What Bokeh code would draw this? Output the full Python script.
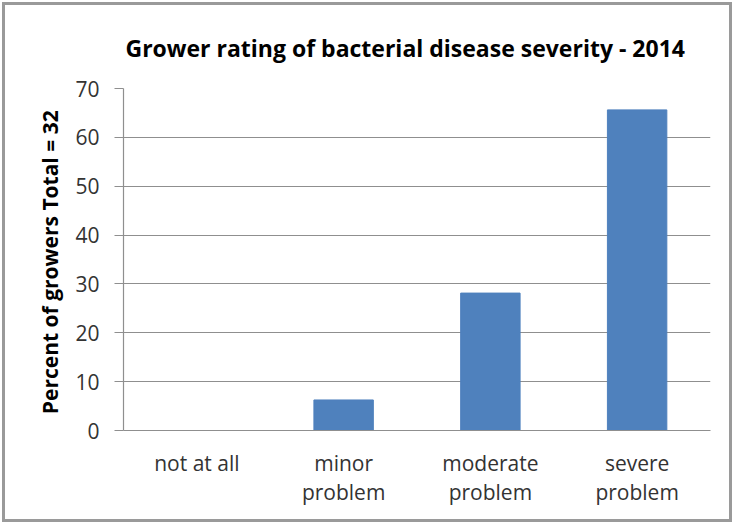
from bokeh.plotting import figure
from bokeh.models import Range1d, FactorRange, FixedTicker, ColumnDataSource
from bokeh.embed import file_html
from bokeh.resources import INLINE

categories = ["not at all", "minor\nproblem", "moderate\nproblem", "severe\nproblem"]
percent = [0.0, 6.25, 28.125, 65.625]
y_ticks = [0, 10, 20, 30, 40, 50, 60, 70]

FONT = "Open Sans"
GRID = "#8f8f8f"
TXT = "#333333"

src = ColumnDataSource(dict(cat=categories, val=percent))

p = figure(
    width=734, height=524,
    x_range=FactorRange(*categories, range_padding=0),
    y_range=Range1d(0, 70),
    output_backend="svg", toolbar_location=None,
    min_border_left=123, min_border_right=24,
    min_border_top=88, min_border_bottom=94,
    title="Grower rating of bacterial disease severity - 2014",
)
p.outline_line_color = None
p.background_fill_color = "white"
p.border_fill_color = None
# outer chart border drawn by the page element behind the transparent canvas border
p.styles = {
    "background-color": "white",
    "box-shadow": "inset 0 0 0 2px white, inset 0 0 0 5px #9a9a9a",
}

p.title.text_font = FONT
p.title.text_font_size = "23px"
p.title.text_font_style = "bold"
p.title.text_color = "black"
p.title.align = "left"
p.title.offset = 2
p.title.standoff = 49

p.vbar(x="cat", top="val", width=0.405, source=src,
       fill_color="#4F81BD", line_color="#4F81BD")

# y axis
p.yaxis.ticker = FixedTicker(ticks=y_ticks)
p.yaxis.axis_line_color = GRID
p.yaxis.axis_line_width = 1.2
p.yaxis.major_tick_line_color = GRID
p.yaxis.major_tick_in = 0
p.yaxis.major_tick_out = 9
p.yaxis.minor_tick_line_color = None
p.yaxis.major_label_text_font = FONT
p.yaxis.major_label_text_font_size = "21px"
p.yaxis.major_label_text_color = TXT
p.yaxis.major_label_standoff = 15
p.yaxis.axis_label = "Percent of growers  Total = 32"
p.yaxis.axis_label_text_font = FONT
p.yaxis.axis_label_text_font_size = "21px"
p.yaxis.axis_label_text_font_style = "bold"
p.yaxis.axis_label_text_color = "black"
p.yaxis.axis_label_standoff = 8

# x axis
p.xaxis.axis_line_color = GRID
p.xaxis.axis_line_width = 1.2
p.xaxis.major_tick_line_color = None
p.xaxis.major_tick_out = 0
p.xaxis.major_tick_in = 0
p.xaxis.major_label_text_font = FONT
p.xaxis.major_label_text_font_size = "21px"
p.xaxis.major_label_text_color = TXT
p.xaxis.major_label_text_line_height = 1.05
p.xaxis.major_label_standoff = 18

p.xgrid.grid_line_color = None
p.ygrid.grid_line_color = GRID
p.ygrid.grid_line_width = 1.2

open("out.html", "w").write(file_html(p, INLINE))
